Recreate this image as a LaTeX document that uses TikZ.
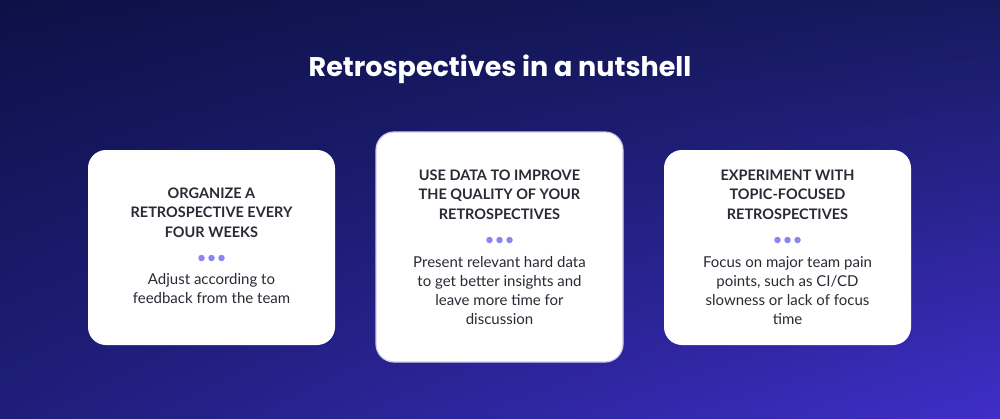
\documentclass[tikz,border=0pt]{standalone}
\usepackage{fontspec}
\usetikzlibrary{shadings}
\setmainfont{Lato}
\newfontfamily\titlefont{Poppins}
\definecolor{txt}{HTML}{2A2A35}
\definecolor{dotc}{HTML}{8A84F5}
\definecolor{bgul}{HTML}{0D1147}
\definecolor{bgur}{HTML}{151A5E}
\definecolor{bgll}{HTML}{1E1E7A}
\definecolor{bglr}{HTML}{3F2EC8}
\definecolor{cardline}{HTML}{C9CCE8}
\begin{document}
\begin{tikzpicture}[x=1pt,y=-1pt,
  card/.style={fill=white,rounded corners=18pt},
  head/.style={font=\fontsize{14.5}{19.5}\selectfont\bfseries,text=txt,align=center,anchor=north},
  body/.style={font=\fontsize{15}{19}\selectfont,text=txt,align=center,anchor=north},
  dotn/.style={circle,fill=dotc,inner sep=0pt,minimum size=6.5pt}]
\useasboundingbox (0,0) rectangle (1000,418);
\shade[upper left=bgul,upper right=bgur,lower left=bgll,lower right=bglr] (0,0) rectangle (1000,418);
\node[font=\titlefont\fontsize{27}{30}\selectfont\bfseries,text=white] (title) at (500,69) {Retrospectives in a nutshell};
\fill[card] (88,150) rectangle (335,345);
\draw[card,draw=cardline,line width=1.2pt] (376,132) rectangle (623,362);
\fill[card] (664,150) rectangle (911,345);
\node[head] (h1) at (211.5,184) {ORGANIZE A\\RETROSPECTIVE EVERY\\FOUR WEEKS};
\node[head] (h2) at (499.5,166) {USE DATA TO IMPROVE\\THE QUALITY OF YOUR\\RETROSPECTIVES};
\node[head] (h3) at (787.5,166) {EXPERIMENT WITH\\TOPIC-FOCUSED\\RETROSPECTIVES};
\foreach \c/\y/\n in {211.5/258/a,499.5/240/b,787.5/240/c}{
  \node[dotn] (\n1) at (\c-10,\y) {};
  \node[dotn] (\n2) at (\c,\y) {};
  \node[dotn] (\n3) at (\c+10,\y) {};
}
\node[body] (b1) at (211.5,270) {Adjust according to\\feedback from the team};
\node[body] (b2) at (499.5,253) {Present relevant hard data\\to get better insights and\\leave more time for\\discussion};
\node[body] (b3) at (787.5,253) {Focus on major team pain\\points, such as CI/CD\\slowness or lack of focus\\time};
\end{tikzpicture}
\end{document}
